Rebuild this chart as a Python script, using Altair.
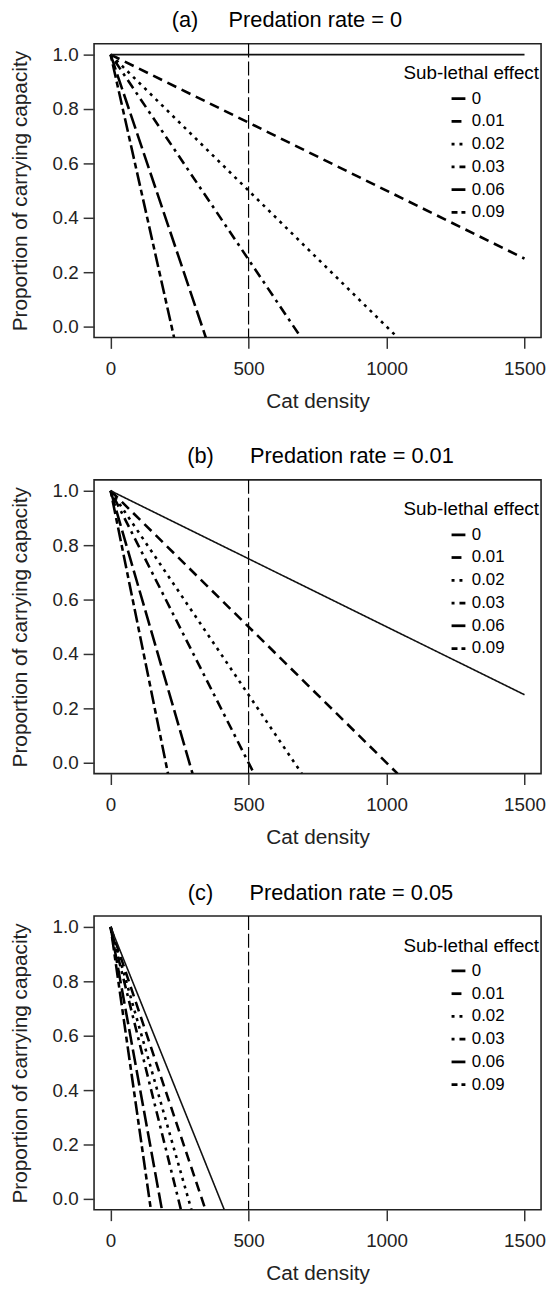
import altair as alt
import pandas as pd

# ---- data ----
sublethal = ["0", "0.01", "0.02", "0.03", "0.06", "0.09"]
dash_styles = [[1, 0], [10, 6], [3, 5], [3, 5, 10, 5], [16, 5], [6, 4, 14, 4]]

panel_letters = ["(a)", "(b)", "(c)"]
predation_rates = ["0", "0.01", "0.05"]

start_x = 0
start_y = 1.0

# end points of each line (where it leaves the plotting frame)
end_x_a = [1500, 1500, 1040, 690, 345, 230]
end_y_a = [1.0, 0.25, -0.04, -0.04, -0.04, -0.04]
end_x_b = [1500, 1040, 693, 520, 297, 208]
end_y_b = [0.25, -0.04, -0.04, -0.04, -0.04, -0.04]
end_x_c = [412, 344, 293, 255, 186, 146]
end_y_c = [-0.04, -0.04, -0.04, -0.04, -0.04, -0.04]

reference_density = [500]
x_ticks = [0, 500, 1000, 1500]
y_ticks = [0.0, 0.2, 0.4, 0.6, 0.8, 1.0]

end_x = [end_x_a, end_x_b, end_x_c]
end_y = [end_y_a, end_y_b, end_y_c]

FONT = "Liberation Sans"

rows = []
for p, letter in enumerate(panel_letters):
    for s, sub in enumerate(sublethal):
        rows.append({"panel": letter, "sub": sub, "x": start_x, "y": start_y, "order": 0})
        rows.append({"panel": letter, "sub": sub, "x": end_x[p][s], "y": end_y[p][s], "order": 1})
df = pd.DataFrame(rows)

title_text = [
    "(a)" + "\u00a0" * 5 + "Predation rate = " + predation_rates[0],
    "(b)" + "\u00a0" * 6 + "Predation rate = " + predation_rates[1],
    "(c)" + "\u00a0" * 6 + "Predation rate = " + predation_rates[2],
]
title_dx = [-31, 3, 3]


def x_enc():
    return alt.X(
        "x:Q",
        scale=alt.Scale(domain=[-60, 1560], nice=False, zero=False),
        axis=alt.Axis(values=x_ticks, format="d", title="Cat density",
                      labelPadding=11, titlePadding=13),
    )


def y_enc():
    return alt.Y(
        "y:Q",
        scale=alt.Scale(domain=[-0.04, 1.04], nice=False, zero=False),
        axis=alt.Axis(values=y_ticks, format=".1f",
                      title="Proportion of carrying capacity",
                      labelPadding=5, titlePadding=22),
    )


def dash_enc():
    return alt.StrokeDash(
        "sub:N",
        sort=sublethal,
        scale=alt.Scale(domain=sublethal, range=dash_styles),
        legend=alt.Legend(
            title="Sub-lethal effect",
            orient="none",
            legendX=313,
            legendY=21,
            titleFontSize=19,
            titleFontWeight="normal",
            titleFont=FONT,
            titleColor="black",
            titlePadding=7,
            labelFontSize=17,
            labelFont=FONT,
            labelColor="black",
            labelOffset=5,
            symbolType="stroke",
            symbolSize=196,
            symbolStrokeWidth=2.8,
            symbolStrokeColor="black",
            symbolOffset=47,
            rowPadding=5,
            padding=0,
        ),
    )


def panel(i):
    d = df[df["panel"] == panel_letters[i]]
    base = alt.Chart(d)
    dashed = base.transform_filter(alt.datum.sub != "0").mark_line(
        color="black", strokeWidth=2.6, clip=True, strokeCap="butt"
    ).encode(x=x_enc(), y=y_enc(), strokeDash=dash_enc(), detail="sub:N", order="order:Q")
    solid = base.transform_filter(alt.datum.sub == "0").mark_line(
        color="#111", strokeWidth=1.6, clip=True, strokeCap="butt"
    ).encode(x=x_enc(), y=y_enc(), strokeDash=dash_enc(), order="order:Q")
    vline = alt.Chart(pd.DataFrame({"x": reference_density})).mark_rule(
        color="black", strokeWidth=1.2, strokeDash=[14, 4]
    ).encode(x=x_enc())
    return alt.layer(vline, dashed, solid).properties(
        width=452,
        height=297,
        title=alt.Title(
            text=title_text[i],
            fontSize=22,
            fontWeight="normal",
            font=FONT,
            color="black",
            anchor="middle",
            frame="group",
            dx=title_dx[i],
            offset=11,
        ),
    )


chart = alt.vconcat(panel(0), panel(1), panel(2), spacing=32).properties(
    padding={"left": 0, "right": 0, "top": -7, "bottom": 0}
).resolve_legend(
    strokeDash="independent"
).configure_view(
    stroke="#222", strokeWidth=1.6
).configure_axis(
    domain=False,
    grid=False,
    tickSize=11,
    tickColor="#333",
    tickWidth=1.5,
    labelFont=FONT,
    labelFontSize=19,
    labelColor="#222",
    titleFont=FONT,
    titleFontSize=21,
    titleFontWeight="normal",
    titleColor="#222",
)

chart.save("out.html", embed_options={"renderer": "svg", "actions": False})
